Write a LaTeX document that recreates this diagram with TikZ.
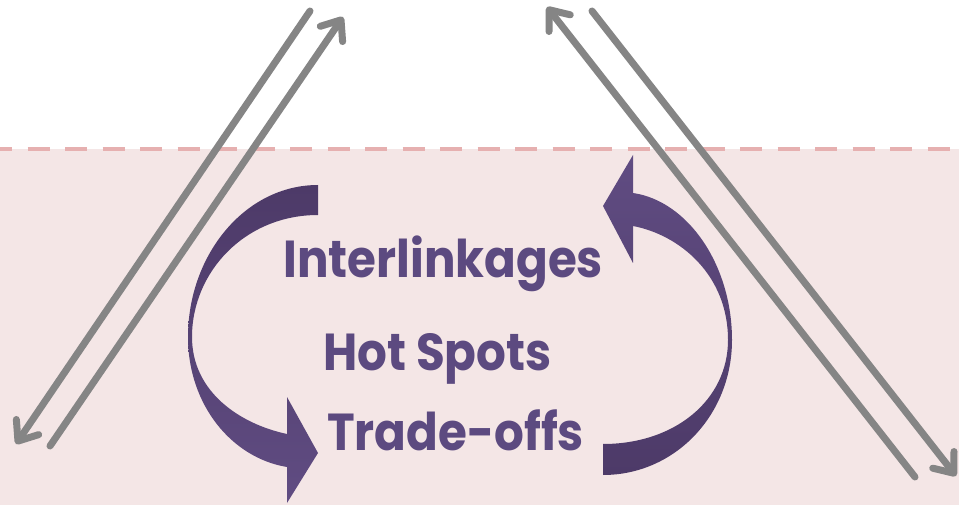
\documentclass[tikz,border=0pt]{standalone}
\usepackage{fontspec}
\setmainfont{Poppins}
\usetikzlibrary{arrows.meta}

\definecolor{bandpink}{RGB}{244,230,230}
\definecolor{dashpink}{RGB}{230,176,176}
\definecolor{flowgray}{RGB}{133,133,133}
\definecolor{purpledark}{RGB}{77,58,104}
\definecolor{purplelight}{RGB}{96,76,130}
\definecolor{textpurple}{RGB}{92,74,128}

\newcommand{\lbltext}[1]{\scalebox{0.9}[1]{#1}}

\tikzset{
  flow/.style={draw=flowgray, line width=7pt, line cap=round,
    -{Straight Barb[length=17pt,width=27pt,round]}},
  lbl/.style={text=textpurple, font=\fontsize{52}{62}\selectfont\bfseries,
    inner sep=0pt, anchor=base west},
}

\begin{document}
\begin{tikzpicture}[x=1pt, y=-1pt]
  % canvas and lower band
  \useasboundingbox (0,0) rectangle (959,505);
  \fill[white] (0,0) rectangle (959,505);
  \fill[bandpink] (0,149) rectangle (959,505);
  \draw[dashpink, line width=4pt, dash pattern=on 22pt off 15.5pt, dash phase=10pt]
    (0,149) -- (959,149);

  % end points of the exchange flows
  \coordinate (la1) at (310,11);
  \coordinate (la2) at (16,444);
  \coordinate (lb1) at (50,446);
  \coordinate (lb2) at (343,17);
  \coordinate (rc1) at (915,477);
  \coordinate (rc2) at (547,7);
  \coordinate (rd1) at (592,11);
  \coordinate (rd2) at (956,476);

  \draw[flow] (la1) -- (la2);
  \draw[flow] (lb1) -- (lb2);
  \draw[flow] (rc1) -- (rc2);
  \draw[flow] (rd1) -- (rd2);

  % left curved arrow, pointing down and right
  \shade[top color=purpledark, bottom color=purplelight]
    (318,185) .. controls (245,185) and (188,255) .. (188,337)
    .. controls (188,405) and (232,458) .. (287,467)
    -- (287,503) -- (318,453) -- (287,397) -- (287,434)
    .. controls (240,424) and (192,392) .. (192,337)
    .. controls (192,272) and (245,215) .. (318,215) -- cycle;

  % right curved arrow, pointing up and left
  \shade[top color=purplelight, bottom color=purpledark]
    (603,475) .. controls (675,475) and (732,415) .. (732,340)
    .. controls (732,265) and (688,201) .. (633,193)
    -- (633,155) -- (603,206) -- (633,263) -- (633,226)
    .. controls (680,235) and (728,275) .. (728,340)
    .. controls (728,400) and (675,444) .. (603,444) -- cycle;

  % labels
  \node[lbl] (inter) at (283,278) {\lbltext{Interlinkages}};
  \node[lbl] (hot) at (323,370) {\lbltext{Hot Spots}};
  \node[lbl] (trade) at (327,450) {\lbltext{Trade-offs}};
\end{tikzpicture}
\end{document}
